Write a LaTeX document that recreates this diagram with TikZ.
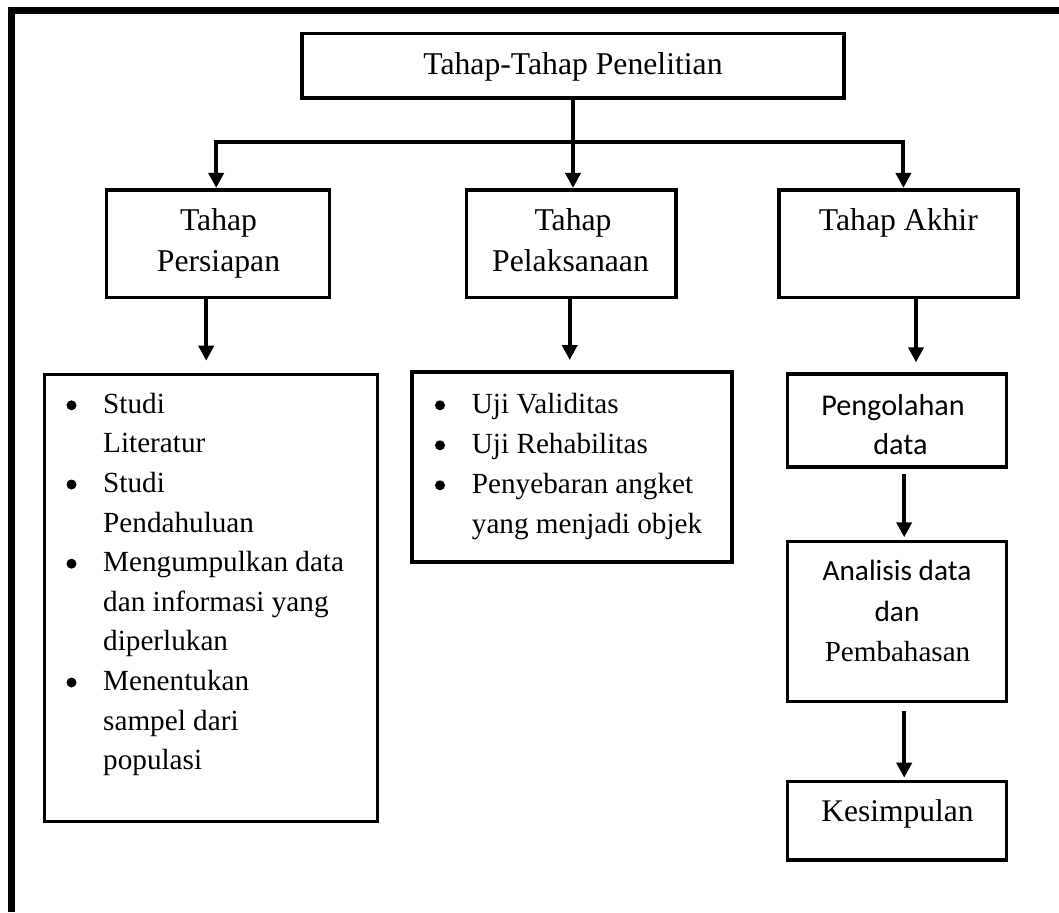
\documentclass[tikz,border=0pt]{standalone}
\usepackage{fontspec}
\setmainfont{Liberation Serif}
\newfontfamily\calibri{Carlito}
\usetikzlibrary{arrows.meta}
\begin{document}
\begin{tikzpicture}[x=1pt,y=-1pt,
  box/.style={draw, line width=3.6pt, inner sep=0pt},
  arr/.style={line width=4pt, line join=miter, -{Triangle[width=15pt,length=15pt]}},
  lbl/.style={inner sep=0pt, anchor=base, font=\fontsize{31.7}{40}\selectfont},
  itm/.style={inner sep=0pt, anchor=base west, font=\fontsize{29.2}{39.6}\selectfont},
  cal/.style={inner sep=0pt, anchor=base, font=\calibri\fontsize{30.2}{38}\selectfont},
  bul/.style={fill=black},
]
\useasboundingbox (0,0) rectangle (1059,912);
% outer frame (left and top edges only)
\draw[line width=7pt] (11.8,912) -- (11.8,10.3) -- (1059,10.3);

% boxes
\node[box, minimum width=542pt, minimum height=64.6pt] (title) at (573,66) {};
\node[box, minimum width=223pt, minimum height=107.6pt] (persiapan) at (218,243.5) {};
\node[box, minimum width=209.5pt, minimum height=107.6pt] (pelaksanaan) at (571.3,243.5) {};
\node[box, minimum width=238.6pt, minimum height=107.6pt] (akhir) at (898.5,243.5) {};
\node[box, minimum width=333pt, minimum height=446.8pt] (list1) at (210.8,597.9) {};
\node[box, minimum width=320pt, minimum height=190pt] (list2) at (572,467) {};
\node[box, minimum width=219pt, minimum height=92.6pt] (pengolahan) at (897,420.5) {};
\node[box, minimum width=219pt, minimum height=160pt] (analisis) at (897,621.3) {};
\node[box, minimum width=219pt, minimum height=78.3pt] (kesimpulan) at (897,820.8) {};

% texts
\node[lbl] (t0) at (573,75) {Tahap-Tahap Penelitian};
\node[lbl] (t1a) at (218.5,230) {Tahap};
\node[lbl] (t1b) at (218.5,271.7) {Persiapan};
\node[lbl] (t2a) at (573,230) {Tahap};
\node[lbl] (t2b) at (570.5,271.7) {Pelaksanaan};
\node[lbl] (t3a) at (898.4,230) {Tahap Akhir};
\node[cal] (t4a) at (893,415) {Pengolahan};
\node[cal] (t4b) at (900.5,454) {data};
\node[cal, font=\calibri\fontsize{29.3}{38}\selectfont] (t5a) at (897,580.7) {Analisis data};
\node[cal, font=\calibri\fontsize{29.3}{38}\selectfont] (t5b) at (897,621.7) {dan};
\node[lbl, font=\fontsize{29.1}{38}\selectfont] (t5c) at (897.5,661.7) {Pembahasan};
\node[lbl, font=\fontsize{31.5}{40}\selectfont] (t6) at (897.5,821.7) {Kesimpulan};

% list 1
\foreach \t [count=\i from 0] in {Studi, Literatur, Studi, Pendahuluan, Mengumpulkan data, dan informasi yang, diperlukan, Menentukan, sampel dari, populasi}
  \node[itm] (a\i) at (103,{413.3+39.6*\i}) {\t};
\foreach \i in {0,2,4,7}
  \fill[bul] (71.5,{405.3+39.6*\i}) circle (5pt);

% list 2
\foreach \t [count=\i from 0] in {Uji Validitas, Uji Rehabilitas, Penyebaran angket, yang menjadi objek}
  \node[itm] (b\i) at (471.7,{413.3+40*\i}) {\t};
\foreach \i in {0,1,2}
  \fill[bul] (440,{405.3+40*\i}) circle (5pt);

% connectors
\coordinate (bl) at (216.2,141.7);
\coordinate (br) at (903.4,141.7);
\draw[arr] (title.south) -- (title.south |- pelaksanaan.north);
\draw[arr] (br) -- (bl) -- (bl |- persiapan.north);
\draw[arr] (bl) -- (br) -- (br |- akhir.north);

\coordinate (xa) at (206.2,0);
\coordinate (xb) at (569.7,0);
\coordinate (xc) at (916,0);
\coordinate (xd) at (904.2,0);
\draw[arr, shorten >=12pt] (persiapan.south -| xa) -- (list1.north -| xa);
\draw[arr, shorten >=10.2pt] (pelaksanaan.south -| xb) -- (list2.north -| xb);
\draw[arr, shorten >=10.1pt] (akhir.south -| xc) -- (pengolahan.north -| xc);
\draw[arr, shorten <=5.4pt, shorten >=2.2pt] (pengolahan.south -| xd) -- (analisis.north -| xd);
\draw[arr, shorten <=7.9pt, shorten >=2.2pt] (analisis.south -| xd) -- (kesimpulan.north -| xd);
\end{tikzpicture}
\end{document}
